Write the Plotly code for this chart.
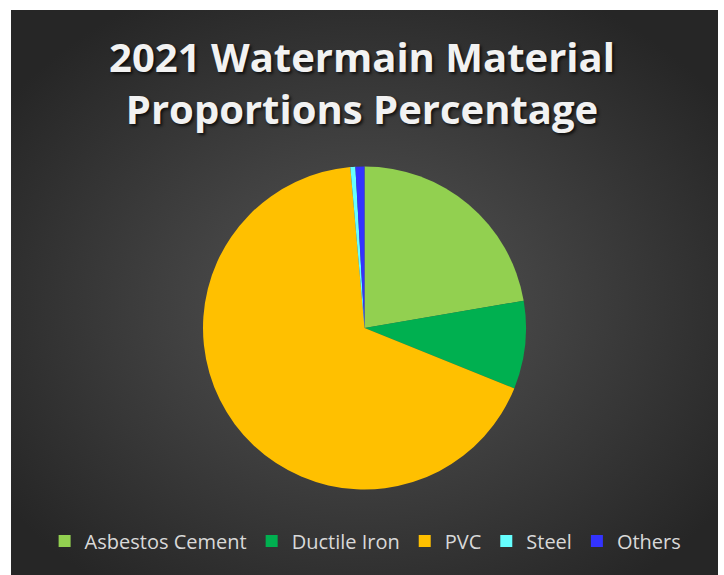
import base64
import plotly.graph_objects as go

# Watermain material shares for 2021 (percent)
materials = ["Asbestos Cement", "Ductile Iron", "PVC", "Steel", "Others"]
shares = [22.3, 8.8, 67.5, 0.5, 0.9]
colors = ["#92d050", "#00b050", "#ffc000", "#66ffff", "#3333ff"]

W, H = 724, 575
# dark panel (pixels) with a soft radial glow in the middle
px0, py0, px1, py1 = 11, 10, 718, 575

svg = f"""<svg xmlns='http://www.w3.org/2000/svg' width='{px1-px0}' height='{py1-py0}' viewBox='0 0 {px1-px0} {py1-py0}' preserveAspectRatio='none'>
<defs><radialGradient id='g' cx='50%' cy='52%' r='62%'>
<stop offset='0%' stop-color='#555555'/>
<stop offset='100%' stop-color='#262626'/>
</radialGradient></defs>
<rect width='100%' height='100%' fill='url(#g)'/>
</svg>"""
bg_uri = "data:image/svg+xml;base64," + base64.b64encode(svg.encode()).decode()

# pie placement: centre (364.5, 328), radius 161.5 px
cx, cy, rad = 364.5, 328, 161.5

fig = go.Figure(
    go.Pie(
        labels=materials,
        values=shares,
        marker=dict(colors=colors, line=dict(width=0)),
        sort=False,
        direction="clockwise",
        rotation=0,
        textinfo="none",
        hoverinfo="label+percent",
        domain=dict(
            x=[(cx - rad) / W, (cx + rad) / W],
            y=[1 - (cy + rad) / H, 1 - (cy - rad) / H],
        ),
    )
)

fig.update_layout(
    width=W,
    height=H,
    margin=dict(l=0, r=0, t=0, b=0),
    paper_bgcolor="#ffffff",
    plot_bgcolor="rgba(0,0,0,0)",
    images=[
        dict(
            source=bg_uri,
            xref="paper",
            yref="paper",
            x=px0 / W,
            y=1 - py0 / H,
            sizex=(px1 - px0) / W,
            sizey=(py1 - py0) / H,
            sizing="stretch",
            xanchor="left",
            yanchor="top",
            layer="below",
        )
    ],
    title=dict(
        text="2021 Watermain Material<br>Proportions Percentage",
        x=0.5,
        xanchor="center",
        y=1 - 72 / H,
        yanchor="middle",
        yref="container",
        font=dict(
            family="Open Sans",
            size=40,
            color="#f2f2f2",
            weight="bold",
            shadow="2px 2px 3px rgba(0,0,0,0.7)",
        ),
    ),
    legend=dict(
        orientation="h",
        x=0.505,
        xanchor="center",
        y=1 - 541 / H,
        yanchor="middle",
        font=dict(family="Open Sans", size=20, color="#d9d9d9"),
        bgcolor="rgba(0,0,0,0)",
        traceorder="normal",
    ),
    showlegend=True,
)

fig.write_html("out.html")
